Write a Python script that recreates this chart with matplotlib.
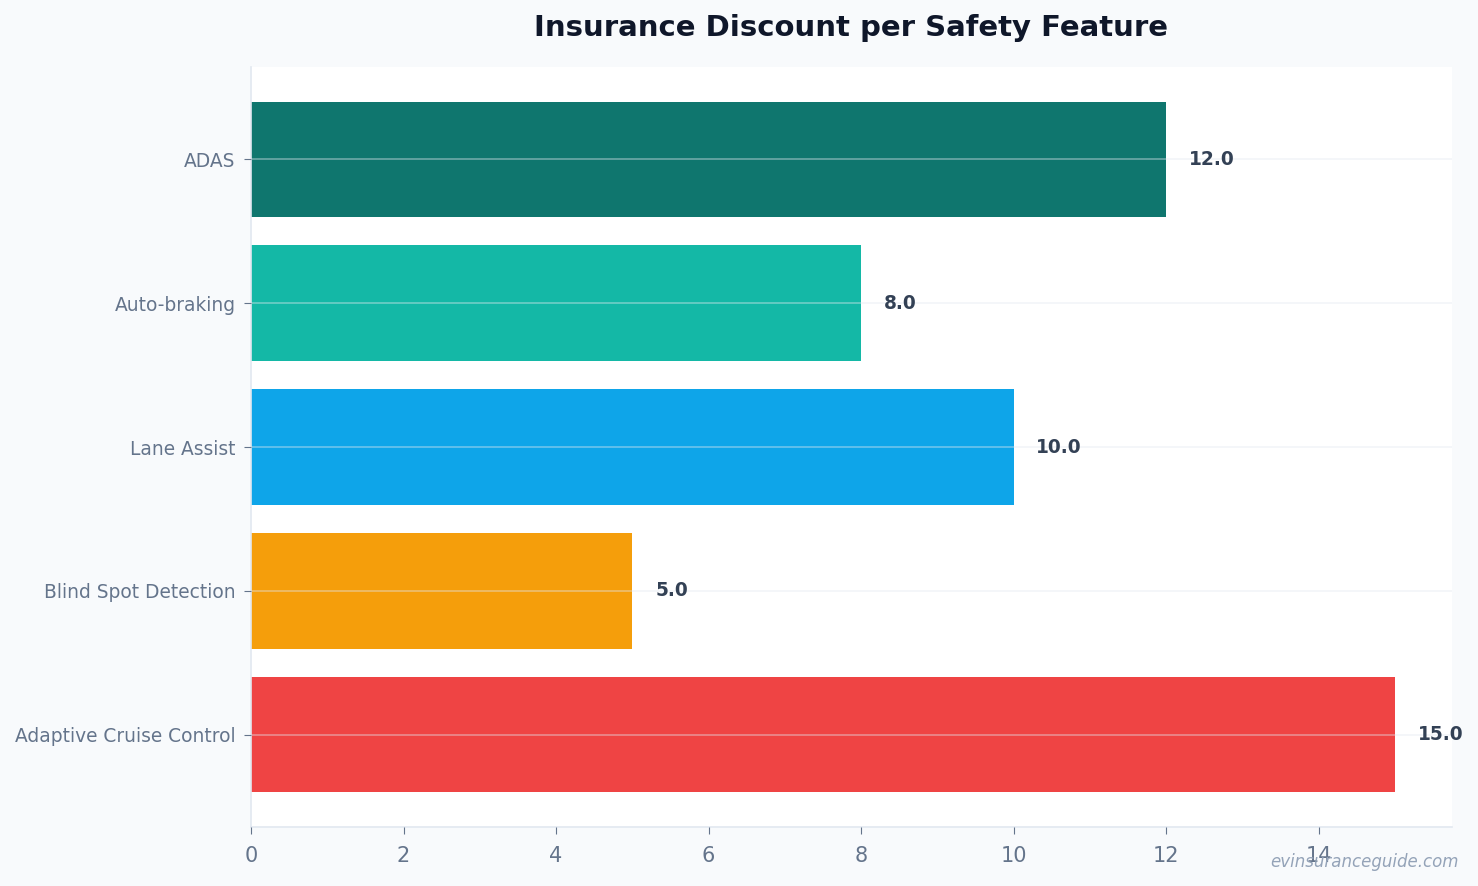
import matplotlib
matplotlib.use('Agg')
import matplotlib.pyplot as plt

features = ['Adaptive Cruise Control', 'Blind Spot Detection', 'Lane Assist', 'Auto-braking', 'ADAS']
discounts = [15.0, 5.0, 10.0, 8.0, 12.0]
colors = ['#ef4444', '#f59e0b', '#0ea5e9', '#14b8a6', '#0f766e']

fig = plt.figure(figsize=(14.78, 8.86), dpi=100, facecolor='#f8fafc')
ax = fig.add_axes([251 / 1478, 1 - 827 / 886, (1452 - 251) / 1478, (827 - 67) / 886])
ax.set_facecolor('white')

ypos = list(range(len(features)))
ax.barh(ypos, discounts, height=0.8, color=colors, zorder=1)
ax.set_yticks(ypos)
ax.set_yticklabels(features)
ax.set_xlim(0, max(discounts) * 1.05)

# light grid drawn over the bars
ax.grid(axis='y', color='#e2e8f0', alpha=0.45, linewidth=1.2, zorder=2)
ax.set_axisbelow(False)

for s in ['top', 'right']:
    ax.spines[s].set_visible(False)
for s in ['left', 'bottom']:
    ax.spines[s].set_color('#e2e8f0')
    ax.spines[s].set_linewidth(1.2)

ax.tick_params(axis='y', colors='#64748b', labelsize=13.4, length=5, pad=6)
ax.tick_params(axis='x', colors='#64748b', labelsize=15, length=5, pad=9)
ax.tick_params(axis='both', color='#64748b')

for y, v in zip(ypos, discounts):
    ax.text(v + 0.3, y, f'{v:.1f}', va='center', ha='left', fontsize=13.4,
            fontweight='bold', color='#334155')

ax.set_title('Insurance Discount per Safety Feature', fontsize=21, fontweight='bold',
             color='#0f172a', pad=22)

fig.text(1459 / 1478, 1 - 862 / 886, 'evinsuranceguide.com', ha='right', va='center',
         fontsize=12, style='italic', color='#94a3b8')

fig.savefig('out.png', dpi=100, facecolor=fig.get_facecolor())
